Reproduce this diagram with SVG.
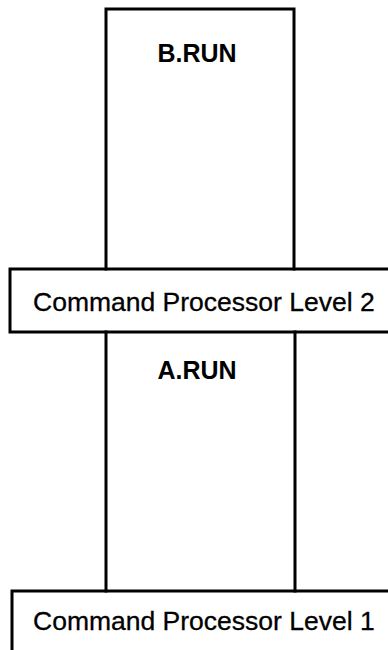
<svg xmlns="http://www.w3.org/2000/svg" width="388" height="650" viewBox="0 0 388 650">
  <style>
    .frame { fill: none; stroke: #000; stroke-width: 3; stroke-linecap: square; }
    .prog { font-family: "Liberation Sans", Arial, sans-serif; font-weight: bold; font-size: 25px; text-anchor: middle; fill: #000; }
    .level { font-family: "Liberation Sans", Arial, sans-serif; font-size: 26.5px; fill: #000; stroke: #000; stroke-width: 0.3; }
  </style>
  <rect width="388" height="650" fill="#fff"/>

  <!-- program B sits on top of level 2 -->
  <g id="b-run">
    <path class="frame" d="M106,269 V9 H294 V269"/>
    <text class="prog" x="197" y="62">B.RUN</text>
  </g>

  <!-- command processor, level 2 (open on the right) -->
  <g id="level-2">
    <path class="frame" d="M392,269 H10 V332 H392"/>
    <text class="level" x="33" y="311">Command Processor Level 2</text>
  </g>

  <!-- program A sits between level 2 and level 1 -->
  <g id="a-run">
    <path class="frame" d="M106,332 V591 M295,332 V591"/>
    <text class="prog" x="197" y="379">A.RUN</text>
  </g>

  <!-- command processor, level 1 (open on the right and bottom) -->
  <g id="level-1">
    <path class="frame" d="M392,591 H12 V654"/>
    <text class="level" x="33" y="630">Command Processor Level 1</text>
  </g>

  <g id="connectors"></g>
</svg>
